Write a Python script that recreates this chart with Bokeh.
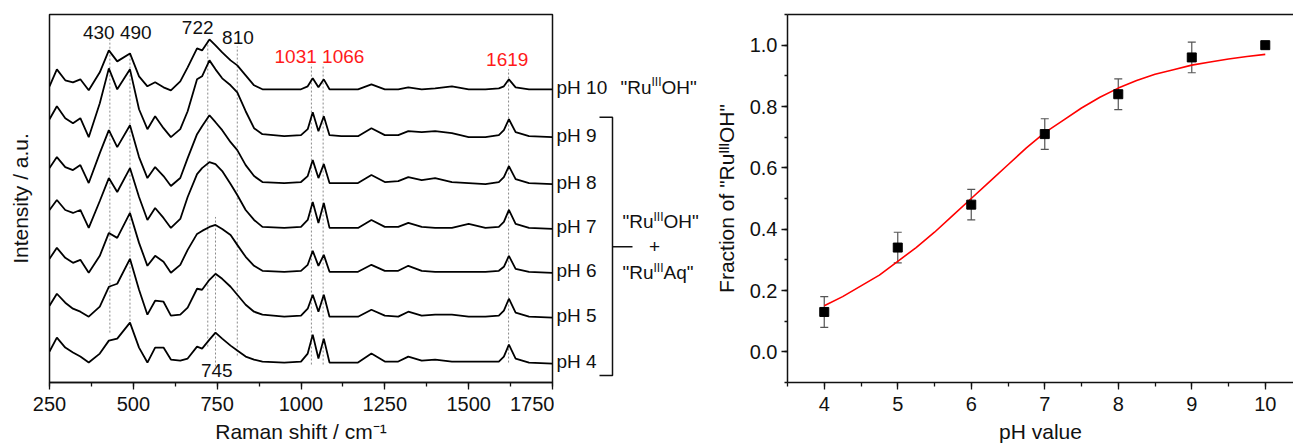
from bokeh.plotting import figure
from bokeh.layouts import row
from bokeh.models import (Range1d, SingleIntervalTicker, FixedTicker, LinearAxis,
                          NumeralTickFormatter, Whisker, TeeHead, ColumnDataSource)
from bokeh.embed import file_html
from bokeh.resources import INLINE
from bokeh.core.properties import value

FONT = "Liberation Sans"

# ---------------- data: Raman spectra ----------------
wavenumber = [250, 272, 297, 320, 342, 367, 400, 427, 452, 490, 517, 542, 565, 590, 612,
              640, 662, 690, 705, 727, 745, 765, 790, 810, 835, 860, 885, 950, 1000, 1020,
              1035, 1052, 1068, 1085, 1120, 1170, 1210, 1250, 1290, 1320, 1360, 1400, 1450,
              1500, 1550, 1590, 1605, 1620, 1640, 1680, 1750]

int_ph10 = [3, 20, 9, 7, 10, -1, 17, 39, 28, 36, 13, 3, 7, 2, -1, 8, 22, 41, 39, 50,
            44, 37, 29, 24, 14, 4, 0, 0, 0, 3, 11, 2, 10, 0, 0, 0, 5, 0, 0, 2,
            0, 1, 3, 0, 0, 1, 3, 10, 2, 0, 0]
int_ph9 = [18, 31, 19, 14, 19, 0, 34, 69, 48, 68, 28, 8, 21, 9, 0, 8, 26, 58, 61, 77,
           68, 59, 52, 45, 26, 9, 3, 1, 2, 8, 25, 6, 21, 2, 1, 1, 9, 2, 2, 6,
           5, 6, 4, 0, 0, 2, 7, 18, 5, 1, 0]
int_ph8 = [16, 27, 17, 14, 19, 1, 31, 54, 37, 59, 27, 6, 17, 8, -2, 6, 26, 50, 58, 69,
           62, 54, 42, 34, 19, 8, 2, 1, 2, 8, 24, 6, 20, 1, 1, 1, 9, 2, 3, 7,
           4, 6, 2, 1, 0, 2, 7, 18, 5, 1, 0]
int_ph7 = [19, 29, 19, 16, 19, 1, 28, 51, 37, 61, 32, 9, 21, 11, 1, 10, 32, 55, 61, 67,
           65, 58, 45, 34, 19, 9, 2, 1, 2, 9, 27, 6, 26, 1, 1, 1, 9, 2, 2, 6,
           2, 1, 1, 5, 1, 2, 7, 19, 5, 1, 0]
int_ph6 = [14, 25, 15, 10, 13, 0, 17, 40, 35, 60, 30, 7, 17, 11, 0, 8, 23, 39, 42, 46,
           48, 44, 38, 28, 16, 7, 2, 1, 2, 8, 22, 7, 18, 1, 1, 1, 8, 2, 2, 7,
           2, 1, 1, 1, 1, 2, 6, 17, 4, 1, 0]
int_ph5 = [12, 24, 15, 9, 6, 1, 11, 31, 34, 59, 28, 3, 17, 16, 2, 3, 10, 29, 28, 38,
           44, 39, 31, 23, 13, 6, 3, 1, 2, 9, 23, 6, 23, 1, 1, 1, 8, 2, 1, 6,
           2, 3, 3, 1, 1, 2, 7, 19, 5, 1, 0]
int_ph4 = [12, 26, 16, 11, 7, 1, 10, 23, 25, 41, 16, 1, 16, 16, 4, 3, 5, 17, 15, 24,
           31, 25, 18, 13, 7, 4, 2, 1, 2, 10, 29, 5, 25, 1, 1, 1, 10, 2, 2, 7,
           3, 4, 2, 2, 2, 2, 7, 19, 5, 1, 0]

spectra = [int_ph10, int_ph9, int_ph8, int_ph7, int_ph6, int_ph5, int_ph4]
ph_names = ["pH 10", "pH 9", "pH 8", "pH 7", "pH 6", "pH 5", "pH 4"]
stack_offset = [294, 246, 199, 154, 110, 65, 19]

# marked bands
band_pos = [430, 490, 722, 745, 810, 1031, 1066, 1619]
band_top = [345, 330, 345, 166, 337, 319, 319, 314]
band_bottom = [50, 58, 36, 16, 27, 18, 18, 20]

black_labels = ["430 490", "722", "810", "745"]
black_label_x = [452, 692, 812, 749]
black_label_y = [351, 356, 346, 12]
red_labels = ["1031 1066", "1619"]
red_label_x = [1055, 1615]
red_label_y = [327, 324]

# ---------------- data: fraction vs pH ----------------
ph_value = [4, 5, 6, 7, 8, 9, 10]
fraction = [0.13, 0.34, 0.48, 0.71, 0.84, 0.96, 1.00]
fraction_err = [0.05, 0.05, 0.05, 0.05, 0.05, 0.05, 0.0]

fit_ph = [4.0, 4.25, 4.5, 4.75, 5.0, 5.25, 5.5, 5.75, 6.0, 6.25, 6.5, 6.75, 7.0,
          7.25, 7.5, 7.75, 8.0, 8.25, 8.5, 8.75, 9.0, 9.25, 9.5, 9.75, 10.0]
fit_fraction = [0.15, 0.18, 0.215, 0.25, 0.295, 0.34, 0.39, 0.445, 0.50, 0.555, 0.61,
                0.665, 0.715, 0.755, 0.795, 0.83, 0.86, 0.885, 0.905, 0.92, 0.935,
                0.945, 0.955, 0.963, 0.97]

TICK_FS = "20px"
LABEL_FS = "21px"
ANN_FS = "19px"
FIG_H = 445
TOP = 14
BOTTOM = 62


def style_axis(ax):
    ax.axis_line_width = 1.5
    ax.axis_line_color = "#111111"
    ax.major_tick_line_color = "#111111"
    ax.minor_tick_line_color = "#111111"
    ax.major_tick_line_width = 1.3
    ax.minor_tick_line_width = 1.3
    ax.major_tick_in = 0
    ax.minor_tick_in = 0
    ax.major_label_text_font = FONT
    ax.major_label_text_font_size = TICK_FS
    ax.major_label_text_color = "#111111"
    ax.axis_label_text_font = FONT
    ax.axis_label_text_font_size = LABEL_FS
    ax.axis_label_text_font_style = "normal"
    ax.axis_label_text_color = "#111111"


# ---------------- left: spectra ----------------
p1 = figure(width=554, height=FIG_H, title=None, x_range=Range1d(250, 1750),
            y_range=Range1d(0, 369), output_backend="svg", toolbar_location=None,
            min_border_left=49, min_border_right=2, min_border_top=TOP,
            min_border_bottom=BOTTOM)
p1.grid.visible = False
p1.outline_line_color = "#111111"
p1.outline_line_width = 1.5
p1.background_fill_color = "white"
p1.border_fill_color = "white"

style_axis(p1.xaxis[0])
p1.xaxis.ticker = SingleIntervalTicker(interval=250, num_minor_ticks=2)
p1.xaxis.major_tick_out = 7
p1.xaxis.minor_tick_out = 4
p1.xaxis.major_label_standoff = 7
p1.xaxis.axis_label = "Raman shift / cm⁻¹"
p1.xaxis.axis_label_standoff = 6

style_axis(p1.yaxis[0])
p1.yaxis.ticker = FixedTicker(ticks=[])
p1.yaxis.major_tick_out = 0
p1.yaxis.minor_tick_out = 0
p1.yaxis.major_label_standoff = 0
p1.yaxis.axis_line_color = None
p1.yaxis.axis_label = "Intensity / a.u."
p1.yaxis.axis_label_standoff = 18

p1.segment(x0=band_pos, x1=band_pos, y0=band_bottom, y1=band_top,
           line_color="#8a8a8a", line_width=1, line_dash="2 2")

for inten, off in zip(spectra, stack_offset):
    p1.line(wavenumber, [off + v for v in inten], line_color="black", line_width=1.8)

p1.text(x=black_label_x, y=black_label_y, text=black_labels, text_font=value(FONT),
        text_font_size=ANN_FS, text_color="#111111", text_align="center",
        text_baseline="middle")
p1.text(x=red_label_x, y=red_label_y, text=red_labels, text_font=value(FONT),
        text_font_size=ANN_FS, text_color="#ff1a1a", text_align="center",
        text_baseline="middle")

# ---------------- middle: trace names and bracket ----------------
p2 = figure(width=146, height=FIG_H, title=None, x_range=Range1d(554, 700),
            y_range=p1.y_range, output_backend="svg", toolbar_location=None,
            x_axis_location=None, y_axis_location=None,
            min_border_left=0, min_border_right=0, min_border_top=TOP,
            min_border_bottom=BOTTOM)
p2.grid.visible = False
p2.outline_line_color = None
p2.border_fill_color = "white"

p2.text(x=[556] * len(ph_names), y=[o + 2 for o in stack_offset], text=ph_names,
        text_font=value(FONT), text_font_size=ANN_FS, text_color="#111111",
        text_align="left", text_baseline="middle")


def ru_label(fig, x, y, tail):
    common = dict(text_font=value(FONT), text_color="#111111", text_align="left",
                  text_baseline="middle")
    fig.text(x=[x], y=[y], text=['"Ru'], text_font_size=ANN_FS, **common)
    fig.text(x=[x + 31], y=[y + 5], text=["III"], text_font_size="12px", **common)
    fig.text(x=[x + 41], y=[y], text=[tail + '"'], text_font_size=ANN_FS, **common)


ru_label(p2, 620, stack_offset[0] + 2, "OH")
ru_label(p2, 622, 161, "OH")
ru_label(p2, 622, 110, "Aq")
p2.text(x=[654], y=[136], text=["+"], text_font=value(FONT), text_font_size=ANN_FS,
        text_color="#111111", text_align="center", text_baseline="middle")

p2.multi_line(xs=[[599, 612, 612, 599], [612, 632]], ys=[[266, 266, 7, 7], [136, 136]],
              line_color="#111111", line_width=1.5)

# ---------------- right: fraction vs pH ----------------
p3 = figure(width=593, height=FIG_H, title=None, x_range=Range1d(3.5, 10.384),
            y_range=Range1d(-0.1, 1.1), output_backend="svg", toolbar_location=None,
            min_border_left=87, min_border_right=0, min_border_top=TOP,
            min_border_bottom=BOTTOM)
p3.grid.visible = False
p3.outline_line_color = None
p3.border_fill_color = "white"

style_axis(p3.xaxis[0])
p3.xaxis.ticker = SingleIntervalTicker(interval=1, num_minor_ticks=2)
p3.xaxis.major_tick_out = 7
p3.xaxis.minor_tick_out = 4
p3.xaxis.major_label_standoff = 7
p3.xaxis.axis_label = "pH value"
p3.xaxis.axis_label_standoff = 6

style_axis(p3.yaxis[0])
p3.yaxis.ticker = SingleIntervalTicker(interval=0.2, num_minor_ticks=2)
p3.yaxis.formatter = NumeralTickFormatter(format="0.0")
p3.yaxis.major_tick_out = 6
p3.yaxis.minor_tick_out = 3
p3.yaxis.major_label_standoff = 4
p3.yaxis.axis_label = 'Fraction of "RuᴵᴵᴵOH"'
p3.yaxis.axis_label_standoff = 9

top_axis = LinearAxis(ticker=FixedTicker(ticks=[]), major_tick_out=0, minor_tick_out=0,
                      major_label_standoff=0, major_label_text_font_size="0px",
                      axis_line_width=1.5, axis_line_color="#111111")
p3.add_layout(top_axis, "above")

bx = [x for x, e in zip(ph_value, fraction_err) if e > 0]
bu = [f + e for f, e in zip(fraction, fraction_err) if e > 0]
bl = [f - e for f, e in zip(fraction, fraction_err) if e > 0]
err_src = ColumnDataSource(dict(x=bx, upper=bu, lower=bl))
whisk = Whisker(base="x", upper="upper", lower="lower", source=err_src,
                line_color="#555555", line_width=1.2, level="underlay",
                upper_head=TeeHead(size=8, line_color="#555555", line_width=1.2),
                lower_head=TeeHead(size=8, line_color="#555555", line_width=1.2))
p3.add_layout(whisk)

p3.line(fit_ph, fit_fraction, line_color="#ff0000", line_width=1.6)
p3.scatter(ph_value, fraction, marker="square", size=9, color="black")

layout = row(p1, p2, p3)

with open("out.html", "w") as f:
    f.write(file_html(layout, INLINE))
